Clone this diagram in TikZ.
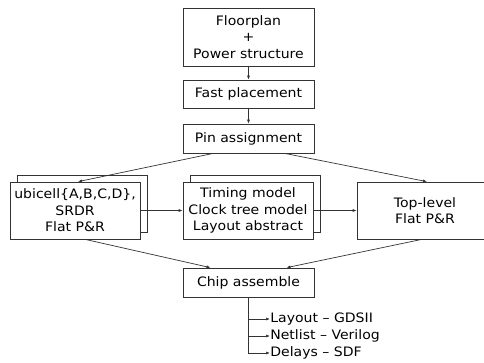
\documentclass[tikz,border=0pt]{standalone}
\usepackage{fontspec}
\setmainfont[FakeStretch=1.08]{DejaVu Sans}
\usetikzlibrary{arrows.meta,positioning}
\definecolor{Ink}{HTML}{333333}

\tikzset{
  stepbox/.style={draw=Ink,fill=white,align=center,font=\fontsize{13}{16.5}\selectfont,
    inner sep=0pt,minimum width=131pt},
  flow/.style={draw=Ink,-{Latex[length=4pt,width=3pt]}},
}

\begin{document}
\begin{tikzpicture}[x=1pt,y=-1pt,line width=0.7pt]
  \useasboundingbox (0,0) rectangle (484,363);
  % main chain
  \node[stepbox,minimum height=58pt] (floor) at (248.5,37) {Floorplan\\+\\Power structure};
  \node[stepbox,minimum height=28pt] (fast) at (248.5,94) {Fast placement};
  \node[stepbox,minimum height=29pt] (pin) at (248.5,138.5) {Pin assignment};
  % stacked boxes (shadow copy behind)
  \node[stepbox,minimum width=130pt,minimum height=57pt] (ubiback) at (82,203.5) {};
  \node[stepbox,minimum width=130pt,minimum height=57pt] (ubi) at (75,210.5) {ubicell\{A,B,C,D\},\\SRDR\\Flat P\&R};
  \node[stepbox,minimum width=130pt,minimum height=57pt] (modback) at (255,203.5) {};
  \node[stepbox,minimum width=130pt,minimum height=57pt] (model) at (248,210.5) {Timing model\\Clock tree model\\Layout abstract};
  \node[stepbox,minimum width=136pt,minimum height=57pt] (top) at (425,210.5) {Top-level\\Flat P\&R};
  \node[stepbox,minimum height=29pt] (chip) at (248.5,282.5) {Chip assemble};
  % connectors
  \draw[flow] (floor) -- (fast);
  \draw[flow] (fast) -- (pin);
  \draw[flow] ([xshift=-35pt]pin.south) -- ([xshift=3pt]ubi.north);
  \draw[flow] ([xshift=36pt]pin.south) -- ([xshift=2pt]top.north);
  \draw[flow] (ubi) -- (model);
  \draw[flow] (model) -- (top);
  \draw[flow] ([xshift=10pt]ubi.south) -- ([xshift=-38pt]chip.north);
  \draw[flow] ([xshift=-3pt]top.south) -- ([xshift=38pt]chip.north);
  % outputs
  \coordinate (out) at (chip.south);
  \node[anchor=west,inner sep=0pt,font=\fontsize{13}{16.5}\selectfont] (gds) at (270,319) {Layout -- GDSII};
  \node[anchor=west,inner sep=0pt,font=\fontsize{13}{16.5}\selectfont] (net) at (270,336) {Netlist -- Verilog};
  \node[anchor=west,inner sep=0pt,font=\fontsize{13}{16.5}\selectfont] (sdf) at (270,353) {Delays -- SDF};
  \draw[flow] (out) |- (gds.west);
  \draw[flow] (out) |- (net.west);
  \draw[flow] (out) |- (sdf.west);
\end{tikzpicture}
\end{document}
